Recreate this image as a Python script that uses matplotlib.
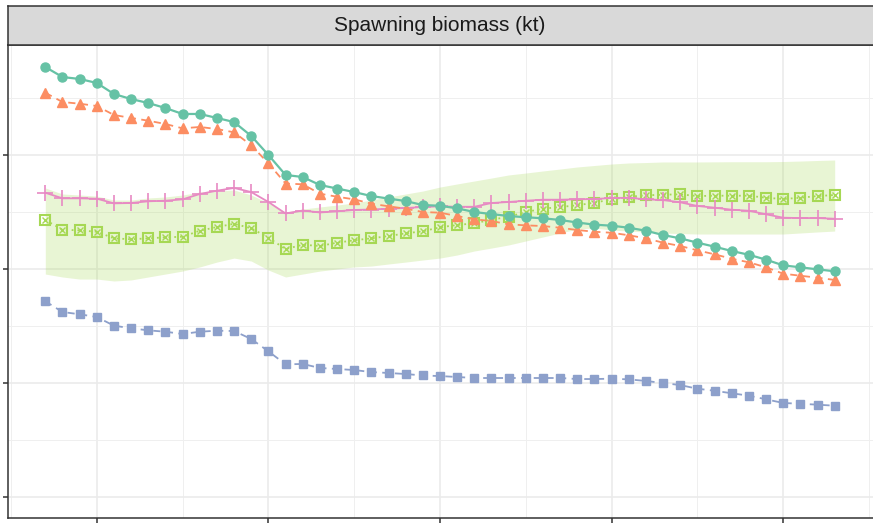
import numpy as np
import matplotlib
matplotlib.use("Agg")
import matplotlib.pyplot as plt
from matplotlib.ticker import MultipleLocator

years = list(range(1987, 2034))

ssb_a = [377.2, 368.4, 366.7, 363.2, 353.5, 349.1, 345.6, 341.2, 336.0, 336.0,
         332.5, 328.9, 316.7, 300.0, 282.5, 280.7, 273.7, 270.6, 267.5, 264.0,
         261.8, 259.6, 256.1, 255.5, 253.2, 250.0, 248.2, 246.5, 245.4, 244.5,
         243.0, 240.8, 238.9, 238.0, 236.2, 233.6, 229.8, 226.9, 223.1, 219.6,
         215.8, 212.5, 208.2, 203.2, 201.5, 199.7, 198.0]
ssb_b = [354.6, 346.5, 345.0, 343.0, 335.1, 332.5, 330.1, 327.2, 323.4, 324.6,
         322.8, 319.9, 308.5, 292.7, 275.0, 274.3, 266.1, 263.4, 261.1, 257.3,
         255.0, 252.9, 250.0, 249.4, 246.5, 243.6, 242.1, 239.2, 238.3, 237.7,
         236.2, 234.2, 232.7, 231.8, 229.6, 226.9, 223.1, 220.2, 216.4, 212.9,
         209.0, 205.9, 201.5, 195.9, 194.1, 192.4, 190.4]
ssb_c = [171.7, 162.3, 160.3, 157.9, 150.3, 148.0, 146.2, 145.0, 143.0, 145.0,
         145.9, 145.6, 138.6, 127.8, 116.4, 116.7, 113.2, 112.3, 111.4, 109.6,
         108.8, 107.9, 106.6, 106.1, 105.3, 104.4, 104.4, 104.4, 104.4, 104.4,
         104.4, 103.5, 103.5, 103.8, 103.2, 101.8, 100.0, 98.2, 95.0, 93.2,
         91.0, 88.9, 85.7, 82.5, 81.8, 81.0, 80.1]
ssb_d = [266.9, 262.0, 262.0, 261.7, 257.6, 257.9, 259.4, 259.9, 261.1, 265.8,
         268.7, 271.1, 267.5, 258.8, 248.7, 251.3, 249.6, 250.6, 251.8, 252.2,
         252.9, 253.5, 254.4, 255.0, 254.6, 254.6, 257.9, 258.8, 259.9, 260.8,
         260.8, 261.1, 261.4, 262.3, 262.5, 261.1, 260.5, 258.5, 255.3, 253.8,
         252.0, 251.1, 248.0, 245.0, 244.7, 244.7, 244.1]
ssb_e = [243.0, 234.5, 233.9, 232.7, 226.9, 226.1, 226.9, 227.8, 228.3, 233.6,
         236.8, 239.7, 235.7, 227.5, 217.5, 221.3, 220.2, 223.1, 225.2, 226.9,
         228.9, 231.3, 233.1, 236.6, 238.6, 240.1, 243.2, 245.9, 250.0, 252.9,
         254.4, 255.9, 258.2, 261.1, 263.4, 264.6, 265.2, 265.5, 264.0, 264.3,
         264.3, 264.3, 262.5, 261.4, 262.5, 264.0, 264.9]
ssb_e_hi = [271.1, 265.8, 264.9, 264.0, 260.5, 260.5, 262.3, 263.2, 264.9, 267.5,
            268.4, 269.3, 264.9, 257.9, 250.0, 252.6, 254.4, 256.1, 257.9, 260.5,
            263.2, 265.8, 268.4, 271.9, 274.6, 277.2, 279.8, 282.5, 284.2, 286.0,
            287.7, 289.5, 290.8, 292.1, 293.0, 293.4, 293.9, 293.9, 293.9, 294.0,
            294.1, 294.1, 294.1, 294.3, 294.7, 295.2, 295.6]
ssb_e_lo = [195.6, 193.0, 191.2, 191.2, 189.5, 190.4, 193.0, 195.6, 198.2, 201.8,
            206.1, 209.6, 207.0, 199.1, 193.0, 195.6, 198.2, 200.0, 201.8, 202.6,
            204.4, 206.1, 207.9, 209.6, 212.3, 215.8, 218.4, 221.1, 224.6, 228.1,
            231.6, 235.1, 236.0, 234.2, 233.3, 232.5, 231.6, 231.1, 230.7, 230.7,
            230.7, 230.7, 230.7, 230.7, 231.6, 232.5, 233.3]

GREEN, ORANGE, BLUE, PINK, LIME = "#66C2A5", "#FC8D62", "#8DA0CB", "#E78AC3", "#A6D854"
DARK = "#333333"

W, H = 873, 526
fig = plt.figure(figsize=(W / 100, H / 100), dpi=100)

# panel runs slightly past the right edge of the canvas
left, right = 8, 876
top, bottom = 45, 518
ax = fig.add_axes([left / W, (H - bottom) / H, (right - left) / W, (bottom - top) / H])

px_per_year = 17.16
ax.set_xlim(1985 - 3 / px_per_year, 1985 + (right - 11) / px_per_year)
ax.set_ylim(-18.4, 396.5)

ax.xaxis.set_major_locator(MultipleLocator(10))
ax.xaxis.set_minor_locator(MultipleLocator(5))
ax.yaxis.set_major_locator(MultipleLocator(100))
ax.yaxis.set_minor_locator(MultipleLocator(50))
ax.grid(which="major", color="#EBEBEB", lw=1.2, zorder=0)
ax.grid(which="minor", color="#EFEFEF", lw=0.7, zorder=0)
ax.set_axisbelow(True)
ax.tick_params(which="major", length=3.8, width=1.1, color=DARK,
               labelleft=False, labelbottom=False)
ax.tick_params(which="minor", length=0)
for s in ax.spines.values():
    s.set_color(DARK)
    s.set_linewidth(1.1)

ax.fill_between(years, ssb_e_lo, ssb_e_hi, color=LIME, alpha=0.25, lw=0, zorder=1)

ax.plot(years, ssb_e, color=LIME, lw=1.3, ls=(0, (1, 2.2)), zorder=2)
ax.plot(years, ssb_e, ls="none", marker="s", ms=7, mfc="none", mec=LIME, mew=1.5, zorder=3)
ax.plot(years, ssb_e, ls="none", marker="x", ms=4.6, mec=LIME, mew=1.0, zorder=3)

ax.plot(years, ssb_d, color=PINK, lw=1.3, marker="+", ms=11, mew=1.2, zorder=3)
ax.plot(years, ssb_c, color=BLUE, lw=1.3, ls=(0, (4, 3)), marker="s", ms=6,
        mfc=BLUE, mec=BLUE, zorder=3)
ax.plot(years, ssb_b, color=ORANGE, lw=1.3, ls=(0, (4, 3)), marker="^", ms=7.5,
        mfc=ORANGE, mec=ORANGE, zorder=4)
ax.plot(years, ssb_a, color=GREEN, lw=1.6, marker="o", ms=6.5,
        mfc=GREEN, mec=GREEN, zorder=5)

# facet strip
sax = fig.add_axes([left / W, (H - top) / H, (right - left) / W, (top - 6) / H])
sax.set_facecolor("#D9D9D9")
sax.set_xticks([])
sax.set_yticks([])
for s in sax.spines.values():
    s.set_color(DARK)
    s.set_linewidth(1.1)
sax.text((440 - left) / (right - left), 0.5, "Spawning biomass (kt)",
         ha="center", va="center", fontsize=15, color="#1A1A1A",
         transform=sax.transAxes, family="Liberation Sans")

fig.savefig("out.png", dpi=100)
